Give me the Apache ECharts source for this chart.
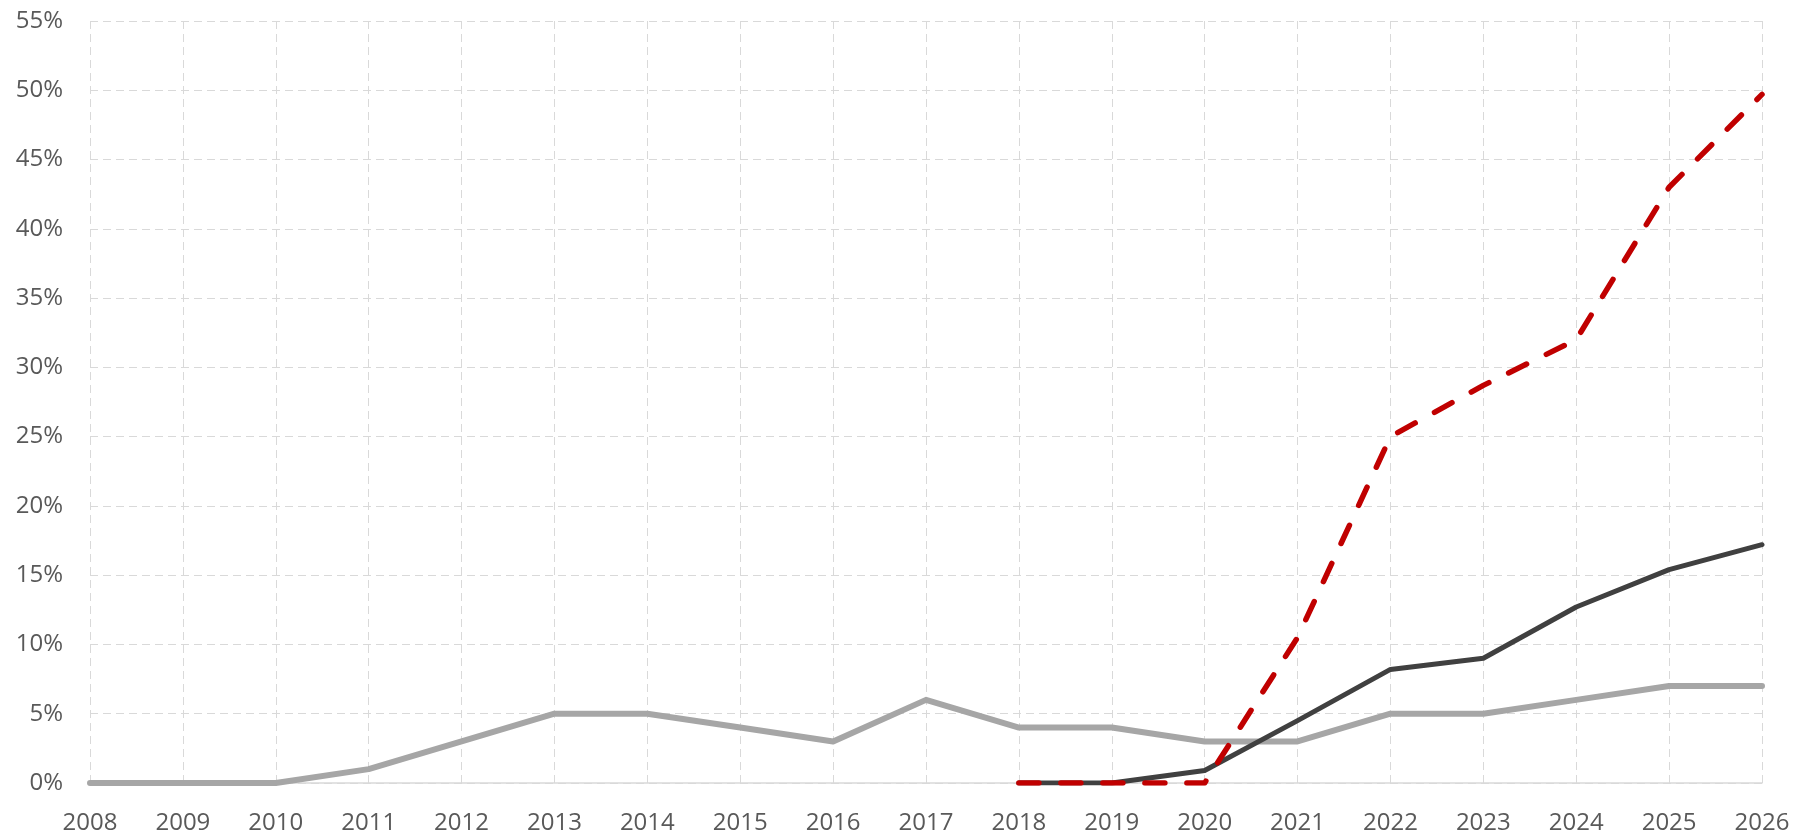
<!DOCTYPE html>
<html>
<head>
<meta charset="utf-8">
<script src="https://cdn.jsdelivr.net/npm/echarts@6/dist/echarts.min.js"></script>
<style>
html,body{margin:0;padding:0;background:#fff;}
#chart{width:1796px;height:835px;}
</style>
</head>
<body>
<div id="chart"></div>
<script>
var years = ['2008','2009','2010','2011','2012','2013','2014','2015','2016','2017','2018','2019','2020','2021','2022','2023','2024','2025','2026'];
var yTicks = [0,5,10,15,20,25,30,35,40,45,50,55];
var greySeries = [0,0,0,1,3,5,5,4,3,6,4,4,3,3,5,5,6,7,7];
var darkSeries = [null,null,null,null,null,null,null,null,null,null,0,0,0.9,4.5,8.2,9.0,12.7,15.4,17.2];
var redSeries  = [null,null,null,null,null,null,null,null,null,null,0,0,0,10.5,25.0,28.7,32.0,43.0,49.7];

var chart = echarts.init(document.getElementById('chart'), null, {renderer:'canvas'});
var fontFam = '"Open Sans", "Liberation Sans", sans-serif';
chart.setOption({
  animation:false,
  backgroundColor:'#ffffff',
  grid:{left:90,right:34,top:21,bottom:51,containLabel:false},
  xAxis:{
    type:'category',
    data:years,
    boundaryGap:false,
    axisLine:{show:true,lineStyle:{color:'#d9d9d9',width:1.5}},
    axisTick:{show:false},
    axisLabel:{color:'#595959',fontSize:24,fontFamily:fontFam,margin:28,interval:0},
    splitLine:{show:true,lineStyle:{color:'#d9d9d9',type:[8,5],width:1}}
  },
  yAxis:{
    type:'value',
    min:yTicks[0],
    max:yTicks[yTicks.length-1],
    interval:5,
    axisLine:{show:false},
    axisTick:{show:false},
    axisLabel:{color:'#595959',fontSize:24,fontFamily:fontFam,margin:27,formatter:function(v){return v+'%';}},
    splitLine:{show:true,lineStyle:{color:'#d9d9d9',type:[8,5],width:1}}
  },
  series:[
    {type:'line',data:greySeries,symbol:'none',lineStyle:{color:'#a6a6a6',width:6,cap:'round',join:'round'},z:2},
    {type:'line',data:darkSeries,symbol:'none',lineStyle:{color:'#404040',width:5,cap:'round',join:'round'},z:3},
    {type:'line',data:redSeries,symbol:'none',lineStyle:{color:'#c00000',width:5.5,type:[20,22],cap:'round',join:'round'},z:4}
  ]
});
</script>
</body>
</html>
